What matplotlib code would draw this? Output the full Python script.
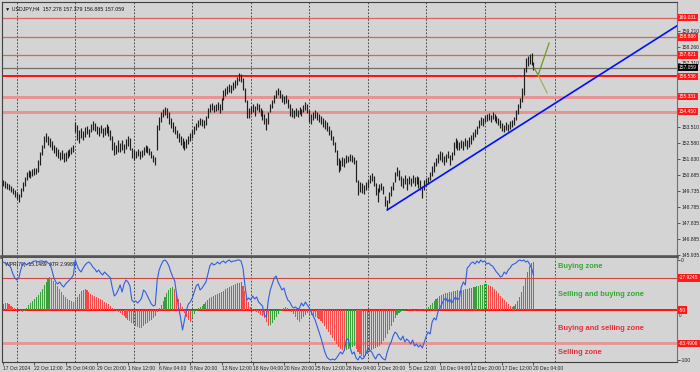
import numpy as np
import matplotlib.pyplot as plt

plt.rcParams['font.family'] = ['Liberation Sans', 'DejaVu Sans']

# USDJPY H4, one entry per bar (bar 0 = 17 Oct 2024 20:00)
hi = [150.39, 150.33, 150.21, 150.15, 150.03, 149.91, 149.79, 149.68, 149.56, 149.91,
      150.27, 150.57, 150.86, 150.98, 150.92, 151.04, 151.10, 151.10, 151.58, 152.05,
      152.47, 153.00, 153.18, 153.00, 152.88, 152.70, 152.47, 152.35, 152.23, 152.05,
      152.17, 151.99, 152.05, 152.17, 152.23, 152.35, 152.47, 153.83, 153.65, 153.36,
      153.48, 153.30, 153.54, 153.59, 153.42, 153.71, 153.89, 153.77, 153.59, 153.54,
      153.65, 153.48, 153.54, 153.71, 153.59, 153.36, 153.00, 152.64, 152.47, 152.76,
      152.58, 152.76, 152.53, 152.82, 153.00, 152.88, 152.29, 152.17, 152.11, 152.23,
      152.11, 152.17, 152.35, 152.47, 152.41, 152.29, 152.11, 151.87, 151.75, 153.65,
      154.13, 154.42, 154.60, 154.72, 154.66, 154.42, 154.07, 153.83, 153.59, 153.36,
      153.18, 153.00, 152.88, 152.70, 152.82, 153.00, 153.18, 153.36, 153.59, 153.77,
      153.95, 154.07, 154.01, 153.95, 154.19, 154.66, 154.90, 154.96, 154.84, 154.90,
      155.02, 154.90, 155.26, 155.73, 155.85, 155.97, 156.09, 156.03, 156.21, 156.33,
      156.50, 156.74, 156.68, 156.44, 155.85, 155.14, 154.66, 154.78, 154.90, 154.78,
      154.96, 154.90, 154.66, 154.54, 154.31, 154.07, 154.42, 154.90, 155.14, 155.44,
      155.73, 155.85, 155.73, 155.50, 155.38, 155.44, 155.20, 154.90, 154.66, 154.54,
      154.66, 154.54, 154.72, 154.60, 154.84, 155.02, 154.90, 154.54, 154.31, 154.42,
      154.54, 154.42, 154.31, 154.19, 154.07, 153.95, 153.83, 153.59, 153.36, 153.00,
      152.64, 152.17, 151.70, 151.58, 151.75, 151.70, 151.87, 151.81, 151.93, 151.87,
      151.75, 151.58, 150.39, 150.27, 150.21, 150.09, 150.27, 150.39, 150.69, 150.80,
      150.63, 150.21, 149.91, 150.15, 150.21, 150.03, 149.44, 149.20, 149.68, 150.03,
      150.27, 150.86, 151.16, 150.98, 150.63, 150.51, 150.69, 150.51, 150.63, 150.51,
      150.69, 150.57, 150.63, 150.57, 150.39, 150.03, 150.39, 150.51, 150.57, 150.86,
      151.22, 151.46, 151.70, 151.93, 152.11, 152.05, 151.81, 151.93, 152.11, 151.87,
      152.05, 152.64, 152.88, 152.76, 152.64, 152.76, 152.70, 152.88, 152.76, 152.94,
      153.06, 153.24, 153.42, 153.59, 153.95, 154.13, 154.07, 154.25, 154.31, 154.37,
      154.25, 154.42, 154.31, 154.19, 154.07, 153.95, 153.77, 153.65, 153.83, 153.71,
      153.89, 153.95, 154.13, 154.54, 154.90, 155.26, 155.85, 157.04, 157.63, 157.75,
      157.87, 157.93, 157.38]
lo = [150.03, 149.91, 149.85, 149.79, 149.68, 149.56, 149.38, 149.26, 149.08, 149.38,
      149.74, 150.03, 150.39, 150.57, 150.51, 150.63, 150.69, 150.75, 150.86, 151.28,
      151.87, 152.29, 152.64, 152.47, 152.35, 152.17, 151.99, 151.81, 151.70, 151.58,
      151.64, 151.46, 151.52, 151.70, 151.81, 151.93, 152.05, 153.24, 152.76, 152.58,
      152.88, 152.76, 152.94, 153.12, 152.94, 153.24, 153.36, 153.30, 153.12, 153.00,
      153.18, 152.94, 153.06, 153.18, 153.00, 152.76, 152.17, 151.87, 151.93, 152.05,
      152.05, 152.17, 151.99, 152.23, 152.41, 152.17, 151.70, 151.58, 151.70, 151.81,
      151.64, 151.75, 151.87, 152.05, 151.99, 151.87, 151.70, 151.46, 151.28, 152.17,
      153.36, 153.83, 154.13, 154.25, 154.07, 153.71, 153.48, 153.24, 153.12, 152.88,
      152.64, 152.47, 152.29, 152.17, 152.29, 152.53, 152.70, 152.88, 153.12, 153.36,
      153.54, 153.65, 153.59, 153.48, 153.65, 154.07, 154.42, 154.54, 154.42, 154.48,
      154.54, 154.36, 154.54, 155.14, 155.38, 155.50, 155.61, 155.55, 155.73, 155.85,
      156.03, 156.27, 156.21, 155.73, 155.02, 154.07, 154.07, 154.31, 154.42, 154.19,
      154.54, 154.42, 154.19, 153.95, 153.71, 153.36, 153.71, 154.42, 154.66, 154.96,
      155.26, 155.44, 155.26, 155.02, 154.90, 154.96, 154.66, 154.19, 154.13, 154.07,
      154.19, 154.13, 154.31, 154.19, 154.42, 154.54, 154.36, 153.83, 153.71, 153.95,
      154.07, 153.95, 153.83, 153.71, 153.54, 153.42, 153.30, 153.06, 152.76, 152.47,
      152.05, 151.28, 150.86, 150.98, 151.22, 151.16, 151.40, 151.46, 151.52, 151.46,
      151.34, 150.27, 149.50, 149.68, 149.62, 149.56, 149.79, 149.91, 150.21, 150.33,
      150.03, 149.50, 149.08, 149.68, 149.79, 149.56, 148.84, 148.61, 149.02, 149.44,
      149.79, 150.27, 150.63, 150.39, 150.03, 149.91, 150.15, 149.79, 150.15, 150.03,
      150.21, 150.03, 150.15, 149.91, 149.79, 149.32, 149.79, 150.03, 150.15, 150.39,
      150.63, 150.86, 151.22, 151.40, 151.58, 151.46, 151.28, 151.46, 151.70, 151.28,
      151.58, 151.87, 152.29, 152.17, 152.17, 152.29, 152.17, 152.41, 152.23, 152.35,
      152.53, 152.76, 152.94, 153.12, 153.48, 153.65, 153.59, 153.83, 153.89, 153.95,
      153.83, 154.01, 153.89, 153.77, 153.65, 153.48, 153.30, 153.24, 153.36, 153.30,
      153.42, 153.54, 153.65, 153.95, 154.31, 154.66, 155.02, 155.44, 156.80, 157.16,
      157.28, 157.22, 156.89]

# histogram (around the -50 line) and Williams %R(70)
hist = [6, 7, 7, 6, 4, 3, 2, 1, 0, -1, -2, -1, 2, 5, 7, 9, 11, 13, 15, 18,
        21, 25, 28, 31, 33, 31, 29, 27, 24, 21, 18, 15, 13, 11, 10, 9, 8, 10, 13, 16,
        19, 20, 21, 20, 18, 16, 15, 14, 13, 12, 11, 10, 8, 7, 6, 4, 2, 0, -1, -2,
        -3, -5, -6, -8, -10, -11, -13, -14, -16, -17, -18, -18, -16, -14, -13, -11, -10, -8, -6, -2,
        2, 5, 9, 13, 17, 20, 22, 23, 21, 16, 11, 7, 3, -3, -7, -10, -12, -8, -4, -1,
        2, 3, 4, 6, 8, 10, 12, 13, 14, 15, 16, 17, 18, 19, 21, 22, 23, 24, 25, 26,
        27, 27, 28, 24, 19, 13, 8, 3, 1, -1, -2, -3, -5, -6, -8, -12, -16, -15, -13, -10,
        -7, -4, -1, 1, 2, 3, 2, 0, -2, -4, -7, -10, -12, -9, -7, -5, -3, -4, -5, -6,
        -7, -8, -9, -11, -13, -16, -19, -22, -25, -28, -31, -34, -37, -39, -40, -41, -40, -39, -38, -37,
        -36, -39, -42, -44, -46, -47, -46, -44, -42, -40, -39, -38, -37, -36, -34, -31, -28, -24, -20, -16,
        -12, -8, -5, -3, -2, -1, -1, 0, 1, 1, 0, -1, 0, 1, 1, 0, 1, 2, 3, 5,
        7, 9, 11, 12, 14, 15, 16, 17, 17, 18, 18, 19, 19, 20, 19, 20, 20, 21, 21, 22,
        22, 23, 23, 24, 24, 25, 25, 26, 26, 25, 24, 23, 21, 19, 17, 14, 12, 10, 8, 6,
        4, 3, 4, 6, 9, 13, 18, 24, 31, 38, 44, 47, 48]
wpr = [-2, -3, -4, -5, -8, -14, -18, -20, -18, -10, -4, -3, -5, -3, -4, -2, -1, -1, -2, -1,
       -1, -2, -1, -3, -4, -10, -18, -22, -24, -22, -25, -27, -24, -22, -20, -18, -15, 0, -6, -10,
       -12, -8, -5, -3, -2, -4, -7, -9, -12, -10, -13, -15, -12, -14, -16, -18, -28, -36, -34, -30,
       -25, -32, -24, -20, -22, -26, -40, -42, -41, -43, -41, -38, -30, -32, -36, -40, -44, -46, -45, -20,
       -10, -5, -1, 0, -2, -6, -12, -17, -21, -35, -48, -58, -70, -60, -50, -44, -42, -38, -32, -26,
       -24, -30, -28, -25, -22, -14, -6, -3, -5, -4, -2, -4, -2, -1, -3, -1, 0, -2, -1, -1,
       0, 0, -1, -8, -25, -40, -38, -40, -36, -39, -37, -42, -44, -46, -55, -57, -40, -30, -24, -18,
       -16, -22, -26, -30, -28, -35, -40, -42, -46, -48, -47, -49, -48, -43, -46, -42, -45, -48, -52, -56,
       -60, -66, -72, -78, -85, -92, -97, -99, -100, -99, -100, -98, -95, -92, -94, -90, -80, -79, -88, -94,
       -92, -98, -100, -96, -99, -98, -94, -89, -90, -92, -96, -99, -95, -94, -97, -99, -100, -92, -86, -82,
       -76, -72, -74, -78, -80, -76, -82, -79, -81, -84, -80, -86, -84, -87, -85, -88, -82, -76, -72, -74,
       -62, -58, -60, -52, -48, -44, -40, -38, -42, -39, -43, -40, -37, -40, -38, -27, -22, -25, -8, -6,
       -3, -2, -4, -1, -3, 0, -2, -1, -4, -3, -5, -6, -9, -12, -14, -17, -16, -12, -14, -10,
       -8, -5, -4, -3, -1, 0, -1, 0, -2, -1, -4, -8, -15]

time_labels = ['17 Oct 2024', '22 Oct 12:00', '25 Oct 04:00', '29 Oct 20:00', '1 Nov 12:00',
               '6 Nov 04:00', '8 Nov 20:00', '13 Nov 12:00', '18 Nov 04:00', '20 Nov 20:00',
               '25 Nov 12:00', '28 Nov 04:00', '2 Dec 20:00', '5 Dec 12:00', '10 Dec 04:00',
               '12 Dec 20:00', '17 Dec 12:00', '20 Dec 04:00']
week_bars = [7, 37, 67, 97, 127, 157, 187, 217, 247, 283]
price_ticks = [145.935, 146.885, 147.835, 148.785, 149.735, 150.685, 151.630, 152.580,
               153.510, 157.310, 158.260, 159.210]

thin_levels = [160.031, 158.886, 157.821]
main_level = 156.536
zone_levels = [155.331, 154.450]
bid = 157.059

trend_x = [197, 346.2]
trend_y = [148.61, 159.59]
fc_up_x = [272.3, 274.4, 280.0]
fc_up_y = [157.04, 156.62, 158.52]
fc_dn_x = [274.4, 279.0]
fc_dn_y = [156.62, 155.55]

wpr_levels = [-17.9245, -50, -83.4906]
zones = ['Buying zone', 'Selling and buying zone', 'Buying and selling zone', 'Selling zone']
zone_y = [-6, -35, -68, -93]

BG = '#d4d4d4'
fig = plt.figure(figsize=(7, 3.72), dpi=100, facecolor=BG)
ax = fig.add_axes([2 / 700, 1 - 257 / 372, 675 / 700, 255 / 372], facecolor=BG)
ax2 = fig.add_axes([2 / 700, 1 - 362 / 372, 675 / 700, 104 / 372], facecolor=BG, sharex=ax)

x = np.arange(len(hi))

# ---- price panel
for g in week_bars:
    ax.axvline(g, color='#303030', lw=0.6, ls=(0, (2, 2)), zorder=1)
    ax2.axvline(g, color='#303030', lw=0.6, ls=(0, (2, 2)), zorder=1)

for lv in thin_levels:
    ax.axhline(lv, color='#d96464', lw=0.9, zorder=2)
ax.axhline(bid, color='#707070', lw=0.9, zorder=2)
ax.axhline(main_level, color='#ff1010', lw=1.4, zorder=2)
for lv in zone_levels:
    ax.axhline(lv, color='#e89494', lw=2.2, zorder=2)

ax.vlines(x, lo, hi, colors='#1e1e1e', lw=0.85, zorder=3)
ax.plot(trend_x, trend_y, color='#0010ff', lw=1.2, zorder=4)
ax.plot(fc_up_x, fc_up_y, color='#6f9a1e', lw=0.9, zorder=4)
ax.plot(fc_dn_x, fc_dn_y, color='#9fb060', lw=0.9, zorder=4)

ax.set_xlim(-0.6, 345.6)
ax.set_ylim(145.816, 160.957)
ax.yaxis.tick_right()
ax.set_yticks(price_ticks)
ax.set_yticklabels([f'{v:.3f}' for v in price_ticks])
ax.tick_params(axis='y', labelsize=3.6, pad=1, length=2, width=0.5, colors='#222222')
ax.tick_params(axis='x', bottom=False, labelbottom=False)

def tag(axis, y, text, fc):
    axis.text(1.003, y, text, transform=axis.get_yaxis_transform(), fontsize=3.5,
              color='white', va='center', ha='left', clip_on=False, zorder=6,
              bbox=dict(boxstyle='square,pad=0.25', fc=fc, ec='none'))

for lv in thin_levels + [main_level] + zone_levels:
    tag(ax, lv, f'{lv:.3f}', '#ff1a1a')
tag(ax, bid, f'{bid:.3f}', '#000000')

ax.text(0.005, 0.985, '\u25bc USDJPY,H4  157.278 157.379 156.885 157.059', transform=ax.transAxes,
        fontsize=3.8, va='top', ha='left', color='#111111')

for side in ['left', 'top']:
    ax.spines[side].set_color('#404040')
ax.spines['right'].set_color('#707070')
ax.spines['right'].set_linewidth(0.8)
ax.spines['bottom'].set_color('#555555')
ax.spines['bottom'].set_linewidth(2.6)

# ---- indicator panel
ax2.axhline(wpr_levels[0], color='#c84848', lw=0.8, zorder=2)
ax2.axhline(wpr_levels[1], color='#ff1010', lw=1.4, zorder=2)
ax2.axhline(wpr_levels[2], color='#e89494', lw=2.0, zorder=2)

h = np.array(hist)
rising = np.r_[True, np.diff(h) >= 0]
cols = ['#3a9e3a' if r else '#f54848' for r in rising]
ax2.bar(x, h, bottom=-50, width=0.55, color=cols, linewidth=0, antialiased=False, zorder=3)
ax2.plot(x, wpr, color='#3060e0', lw=0.8, zorder=4)

zone_cols = ['#34a834', '#34a834', '#e8303a', '#e8303a']
for txt, yy, c in zip(zones, zone_y, zone_cols):
    ax2.text(284.6, yy, txt, fontsize=5.4, fontweight='bold', color=c, va='center', ha='left')

ax2.text(0.004, 0.96, 'WPR(70) -15.1489  ATR 2.9989', transform=ax2.transAxes,
         fontsize=3.6, va='top', ha='left', color='#111111')

ax2.set_ylim(-102, 2)
ax2.yaxis.tick_right()
ax2.set_yticks([0, -100])
ax2.set_yticklabels(['0', '-100'])
ax2.tick_params(axis='y', labelsize=3.6, pad=1, length=2, width=0.5, colors='#222222')
for lv in wpr_levels:
    tag(ax2, lv, f'{lv:g}', '#ff1a1a')
ax2.text(1.003, -55.5, '0', transform=ax2.get_yaxis_transform(), fontsize=3.3,
         va='center', ha='left', color='#222222', clip_on=False)

ax2.set_xticks(np.arange(len(time_labels)) * 16)
ax2.set_xticklabels(time_labels)
for lbl in ax2.get_xticklabels():
    lbl.set_ha('left')
ax2.tick_params(axis='x', labelsize=3.6, pad=1, length=2, width=0.5, colors='#222222')

ax2.spines['top'].set_visible(False)
ax2.spines['left'].set_color('#404040')
ax2.spines['right'].set_color('#707070')
ax2.spines['right'].set_linewidth(0.8)
ax2.spines['bottom'].set_color('#404040')

fig.savefig('out.png', dpi=100, facecolor=BG)
